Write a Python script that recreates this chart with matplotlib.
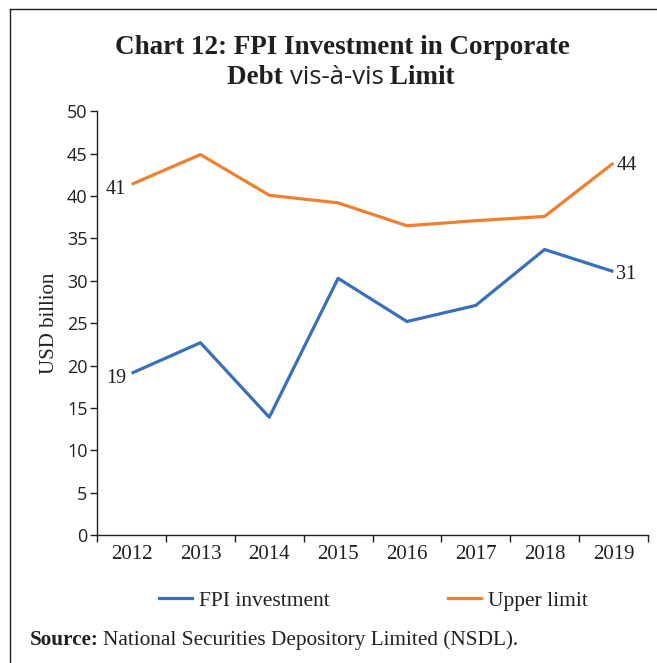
import matplotlib
matplotlib.use("Agg")
import matplotlib.pyplot as plt
from matplotlib.lines import Line2D

# データ (USD billion)
years = ['2012', '2013', '2014', '2015', '2016', '2017', '2018', '2019']
fpi_investment = [19.1, 22.7, 13.9, 30.3, 25.2, 27.1, 33.7, 31.1]
upper_limit = [41.4, 44.9, 40.1, 39.2, 36.5, 37.1, 37.6, 43.9]
first_labels = ['19', '41']
last_labels = ['31', '44']

SERIF = 'Liberation Serif'
SANS = 'Open Sans'
TXT = '#231f20'
BLUE = '#3a6fba'
ORANGE = '#f07f2f'

fig = plt.figure(figsize=(6.57, 6.63), dpi=100)
ax = fig.add_axes([0.148, 0.193, 0.838, 0.639])

x = list(range(len(years)))
ax.plot(x, fpi_investment, color=BLUE, lw=2.3, label='FPI investment',
        solid_capstyle='butt')
ax.plot(x, upper_limit, color=ORANGE, lw=2.3, label='Upper limit',
        solid_capstyle='butt')

# 端点ラベル
for series, lab0, lab1 in [(fpi_investment, first_labels[0], last_labels[0]),
                           (upper_limit, first_labels[1], last_labels[1])]:
    ax.annotate(lab0, (x[0], series[0]), xytext=(-4, -4), textcoords='offset points',
                ha='right', va='center', fontsize=14.5, family=SERIF, color=TXT)
    ax.annotate(lab1, (x[-1], series[-1]), xytext=(2, -2), textcoords='offset points',
                ha='left', va='center', fontsize=14.5, family=SERIF, color=TXT)

ax.set_xlim(-0.5, len(years) - 0.5)
ax.set_ylim(0, 50)
ax.set_yticks(range(0, 51, 5))
ax.set_xticks([i - 0.5 for i in range(len(years) + 1)], minor=False)
ax.set_xticklabels([''] * (len(years) + 1))
ax.set_xticks(x, minor=True)
ax.set_xticklabels(years, minor=True, fontsize=15, family=SERIF, color=TXT)
ax.tick_params(axis='x', which='minor', length=0, pad=7)
ax.tick_params(axis='x', which='major', length=5, width=1, color=TXT)
ax.tick_params(axis='y', length=5, width=1, color=TXT, labelsize=13,
               labelcolor=TXT, pad=2)
for lab in ax.get_yticklabels():
    lab.set_family(SANS)

for s in ['top', 'right']:
    ax.spines[s].set_visible(False)
for s in ['left', 'bottom']:
    ax.spines[s].set_color(TXT)
    ax.spines[s].set_linewidth(1)

ax.set_ylabel('USD billion', fontsize=15, family=SERIF, color=TXT, labelpad=6)

# 凡例
fig.legend(handles=[Line2D([], [], color=BLUE, lw=2.3),
                    Line2D([], [], color=ORANGE, lw=2.3)],
           labels=['FPI investment', 'Upper limit'],
           loc='center', bbox_to_anchor=(0.569, 0.094), ncol=2, frameon=False,
           prop={'family': SERIF, 'size': 15.5}, handlelength=1.5,
           handletextpad=0.35, columnspacing=5.5, labelcolor=TXT)

# タイトル
fig.text(0.521, 0.928, 'Chart 12: FPI Investment in Corporate', ha='center',
         va='center', fontsize=19.5, fontweight='bold', family=SERIF, color=TXT)
parts = [('Debt ', SERIF, 'bold'), ('vis-à-vis', SANS, 'normal'),
         (' Limit', SERIF, 'bold')]
objs = [fig.text(0, 0.883, t, ha='left', va='center', fontsize=19.5,
                 fontweight=w, family=f, color=TXT) for t, f, w in parts]
objs[1].set_fontsize(18.5)
r = fig.canvas.get_renderer()
widths = [o.get_window_extent(r).width for o in objs]
W = fig.bbox.width
xpos = 0.519 * W - sum(widths) / 2
for o, w in zip(objs, widths):
    o.set_x(xpos / W)
    xpos += w

# 出典
src1 = fig.text(0.046, 0.035, 'Source:', ha='left', va='center', fontsize=15.3,
                fontweight='bold', family=SERIF, color=TXT)
w1 = src1.get_window_extent(r).width
fig.text(0.046 + (w1 + 4) / W, 0.035,
         'National Securities Depository Limited (NSDL).', ha='left',
         va='center', fontsize=15.3, family=SERIF, color=TXT)

# 枠線
fig.add_artist(Line2D([0.015, 0.015], [0, 0.986], color=TXT, lw=1,
                      transform=fig.transFigure))
fig.add_artist(Line2D([0.015, 1.0], [0.986, 0.986], color=TXT, lw=1,
                      transform=fig.transFigure))

fig.savefig('out.png', dpi=100)
